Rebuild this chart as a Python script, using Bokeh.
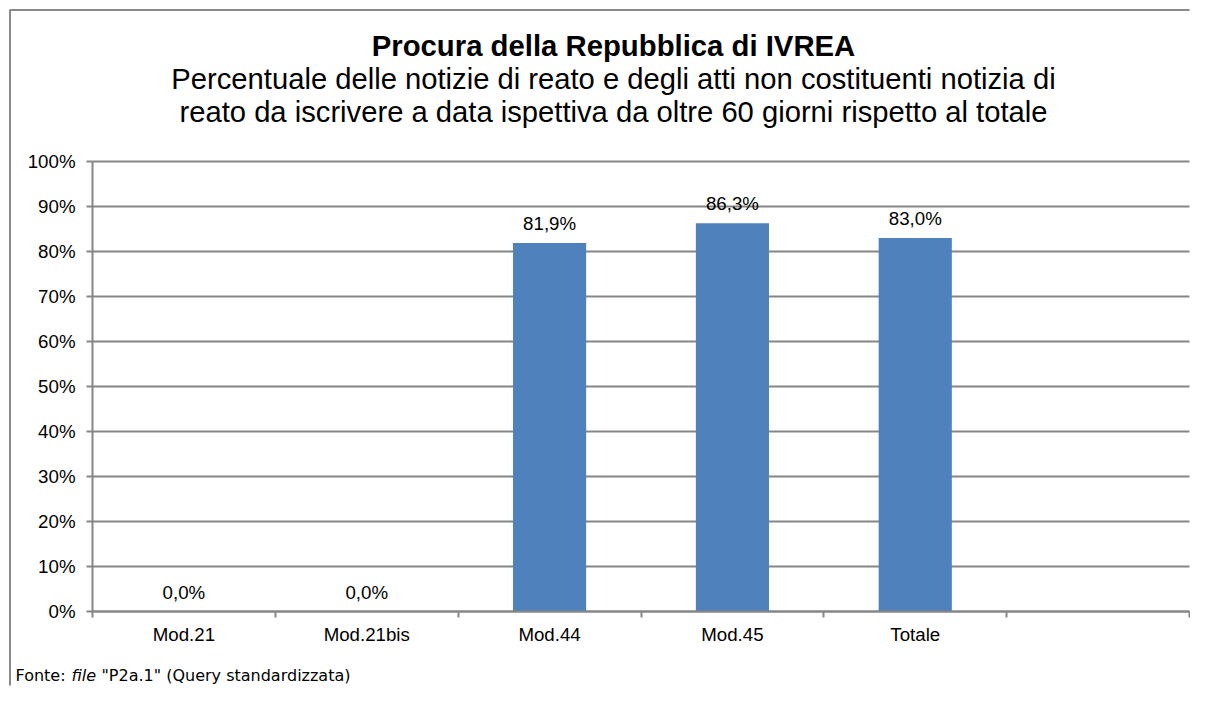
from bokeh.plotting import figure
from bokeh.models import FixedTicker, Label, ColumnDataSource, Range1d
from bokeh.core.properties import value
from bokeh.embed import file_html
from bokeh.resources import INLINE

# ---- data ----
categories = ["Mod.21", "Mod.21bis", "Mod.44", "Mod.45", "Totale"]
values = [0.0, 0.0, 81.9, 86.3, 83.0]
value_labels = ["0,0%", "0,0%", "81,9%", "86,3%", "83,0%"]
y_ticks = [0, 10, 20, 30, 40, 50, 60, 70, 80, 90, 100]
y_tick_labels = ["0%", "10%", "20%", "30%", "40%", "50%", "60%", "70%", "80%", "90%", "100%"]
n_slots = 6  # five categories plus one empty slot on the axis
title_main = "Procura della Repubblica di IVREA"
title_sub1 = "Percentuale delle notizie di reato e degli atti non costituenti notizia di"
title_sub2 = "reato da iscrivere a data ispettiva da oltre 60 giorni rispetto al totale"
footer_parts = ["Fonte:", "file", "\"P2a.1\" (Query standardizzata)"]

# ---- layout (canvas pixels) ----
W, H = 1190, 686
PL, PR, PT, PB = 92, 1189, 161, 611   # plot area inside the canvas
GRID = "#868686"
BAR = "#4F81BD"
FONT = "Liberation Sans"
FS = "18.7px"

kx = n_slots / (PR - PL)
ky = 100.0 / (PB - PT)
x_start, x_end = -PL * kx, n_slots + (W - PR) * kx
y_start, y_end = -(H - PB) * ky, 100 + PT * ky


def dx(cx):  # canvas x pixel -> data x
    return x_start + cx * kx


def dy(cy):  # canvas y pixel -> data y
    return y_end - cy * ky


x_pos = [i + 0.5 for i in range(len(categories))]
src = ColumnDataSource(dict(x=x_pos, top=values, label=value_labels))
grid_src = ColumnDataSource(dict(y=y_ticks, x0=[0] * len(y_ticks), x1=[n_slots] * len(y_ticks)))

p = figure(width=W, height=H,
           x_range=Range1d(x_start, x_end), y_range=Range1d(y_start, y_end),
           output_backend="svg", toolbar_location=None,
           min_border=0, min_border_left=0, min_border_right=0,
           min_border_top=0, min_border_bottom=0)
p.outline_line_color = None
p.background_fill_color = "white"
p.border_fill_color = "white"
p.xgrid.visible = False
p.ygrid.visible = False

# chart border (left and top edges visible in the window)
p.line(x=[dx(9.5), dx(9.5), dx(W - 1)], y=[dy(H - 1), dy(9.5), dy(9.5)],
       line_color="#8a8a8a", line_width=2)

# horizontal gridlines
p.segment(x0="x0", x1="x1", y0="y", y1="y", source=grid_src, line_color=GRID, line_width=2)

# y axis
yt = FixedTicker(ticks=y_ticks, minor_ticks=[])
ax = p.yaxis[0]
ax.fixed_location = 0
ax.bounds = (0, 100)
ax.ticker = yt
ax.major_label_overrides = {t: l for t, l in zip(y_ticks, y_tick_labels)}
ax.major_tick_out = 6
ax.major_tick_in = 0
ax.minor_tick_out = 0
ax.minor_tick_in = 0
ax.axis_line_color = GRID
ax.axis_line_width = 2
ax.major_tick_line_color = GRID
ax.major_tick_line_width = 2
ax.major_label_standoff = 11
ax.major_label_text_font = FONT
ax.major_label_text_font_size = FS
ax.major_label_text_color = "black"

# x axis
xt = FixedTicker(ticks=x_pos, minor_ticks=list(range(n_slots + 1)))
bx = p.xaxis[0]
bx.fixed_location = 0
bx.bounds = (0, n_slots)
bx.ticker = xt
bx.major_label_overrides = {x: c for x, c in zip(x_pos, categories)}
bx.major_tick_out = 0
bx.major_tick_in = 0
bx.minor_tick_out = 6
bx.minor_tick_in = 0
bx.minor_tick_line_color = GRID
bx.minor_tick_line_width = 2
bx.axis_line_color = GRID
bx.axis_line_width = 2
bx.major_label_standoff = 6
bx.major_label_text_font = FONT
bx.major_label_text_font_size = FS
bx.major_label_text_color = "black"

p.vbar(x="x", top="top", width=0.4, source=src, fill_color=BAR, line_color=None)
p.text(x="x", y="top", text="label", source=src, text_align="center",
       text_baseline="bottom", y_offset=-9, text_font=value(FONT),
       text_font_size=FS, text_color="black")

# titles
for txt, cy, style, size in [(title_main, 45, "bold", "29.3px"),
                             (title_sub1, 78, "normal", "29.2px"),
                             (title_sub2, 111, "normal", "29.2px")]:
    p.add_layout(Label(x=dx(613), y=dy(cy), text=txt, text_align="center",
                       text_baseline="middle", text_font=FONT,
                       text_font_style=style, text_font_size=size,
                       text_color="black"))

# footer
for txt, cx, style in zip(footer_parts, [15, 71, 101], ["normal", "italic", "normal"]):
    p.add_layout(Label(x=dx(cx), y=dy(675), text=txt, text_align="left",
                       text_baseline="middle", text_font="DejaVu Sans",
                       text_font_style=style, text_font_size="16px",
                       text_color="black"))

open("out.html", "w").write(file_html(p, INLINE))
